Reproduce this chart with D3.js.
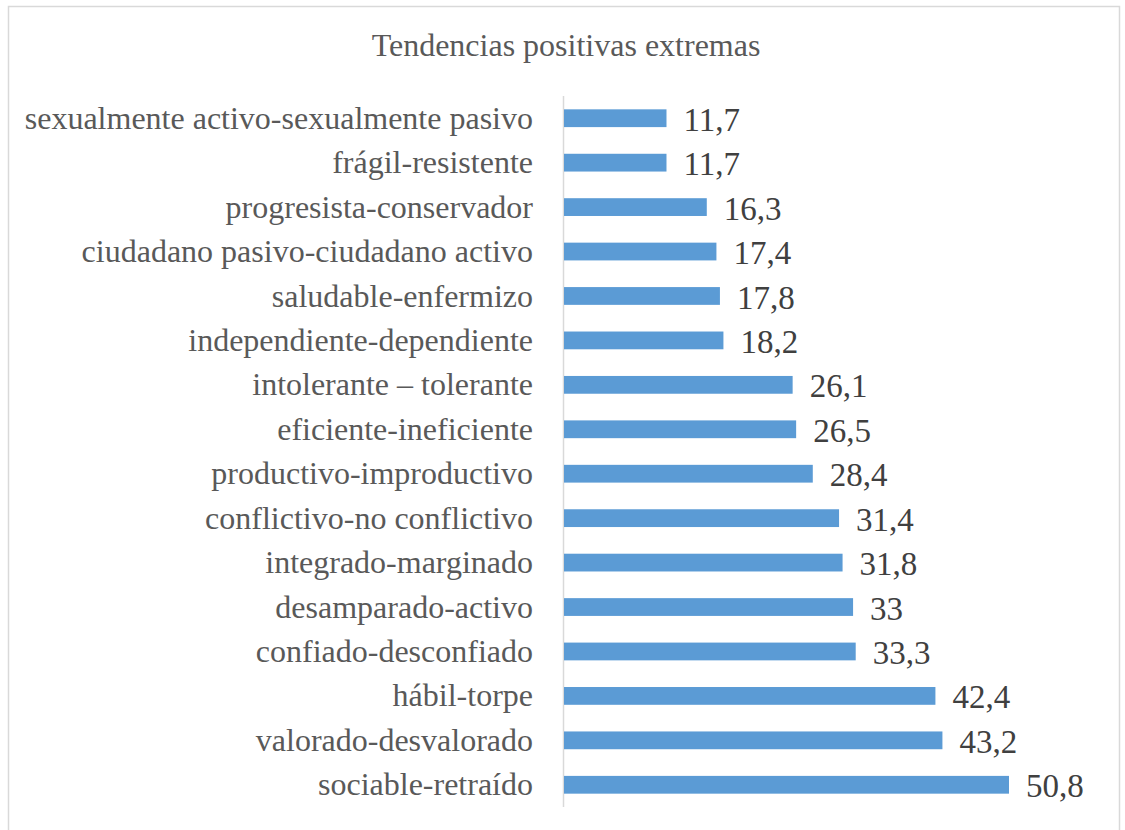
<!DOCTYPE html>
<html>
<head>
<meta charset="utf-8">
<script src="https://cdn.jsdelivr.net/npm/d3@7"></script>
<style>
  body { margin: 0; background: #fff; }
  svg { display: block; }
</style>
</head>
<body>
<div id="chart"></div>
<script>
// data, top to bottom as in the picture
const categories = [
  "sexualmente activo-sexualmente pasivo",
  "frágil-resistente",
  "progresista-conservador",
  "ciudadano pasivo-ciudadano activo",
  "saludable-enfermizo",
  "independiente-dependiente",
  "intolerante – tolerante",
  "eficiente-ineficiente",
  "productivo-improductivo",
  "conflictivo-no conflictivo",
  "integrado-marginado",
  "desamparado-activo",
  "confiado-desconfiado",
  "hábil-torpe",
  "valorado-desvalorado",
  "sociable-retraído"
];
const values = [11.7, 11.7, 16.3, 17.4, 17.8, 18.2, 26.1, 26.5, 28.4, 31.4, 31.8, 33, 33.3, 42.4, 43.2, 50.8];
const valueLabels = ["11,7", "11,7", "16,3", "17,4", "17,8", "18,2", "26,1", "26,5", "28,4", "31,4", "31,8", "33", "33,3", "42,4", "43,2", "50,8"];
const title = "Tendencias positivas extremas";

const width = 1125, height = 830;
const font = "'Liberation Serif', 'Times New Roman', serif";
const svg = d3.select("#chart").append("svg")
  .attr("width", width)
  .attr("height", height);

// chart frame
svg.append("rect")
  .attr("x", 8.5).attr("y", 6.5)
  .attr("width", 1111).attr("height", 840)
  .attr("fill", "#fff")
  .attr("stroke", "#d9d9d9")
  .attr("stroke-width", 1.5);

svg.append("text")
  .attr("x", 566).attr("y", 56)
  .attr("text-anchor", "middle")
  .style("font-family", font)
  .style("font-size", "32px")
  .style("fill", "#595959")
  .text(title);

const x0 = 564;
const x = d3.scaleLinear().domain([0, 50.8]).range([x0, 1009]);
const y = d3.scaleBand().domain(categories).range([96, 807]).paddingInner(0.6).paddingOuter(0.3);

// vertical axis line
svg.append("line")
  .attr("x1", x0 - 0.5).attr("x2", x0 - 0.5)
  .attr("y1", 96).attr("y2", 807)
  .attr("stroke", "#d9d9d9")
  .attr("stroke-width", 1.5);

const rows = categories.map((c, i) => ({ cat: c, v: values[i], lbl: valueLabels[i] }));

svg.selectAll(".bar")
  .data(rows)
  .enter()
  .append("rect")
  .attr("class", "bar")
  .attr("x", x0)
  .attr("y", d => y(d.cat))
  .attr("width", d => x(d.v) - x0)
  .attr("height", y.bandwidth())
  .style("fill", "#5b9bd5");

svg.selectAll(".cat")
  .data(rows)
  .enter()
  .append("text")
  .attr("class", "cat")
  .attr("x", 533)
  .attr("y", d => y(d.cat) + y.bandwidth() / 2)
  .attr("dy", "0.33em")
  .attr("text-anchor", "end")
  .style("font-family", font)
  .style("font-size", "32px")
  .style("fill", "#595959")
  .text(d => d.cat);

svg.selectAll(".val")
  .data(rows)
  .enter()
  .append("text")
  .attr("class", "val")
  .attr("x", d => x(d.v) + 17)
  .attr("y", d => y(d.cat) + y.bandwidth() / 2)
  .attr("dy", "0.38em")
  .style("font-family", font)
  .style("font-size", "33px")
  .style("fill", "#404040")
  .text(d => d.lbl);
</script>
</body>
</html>
